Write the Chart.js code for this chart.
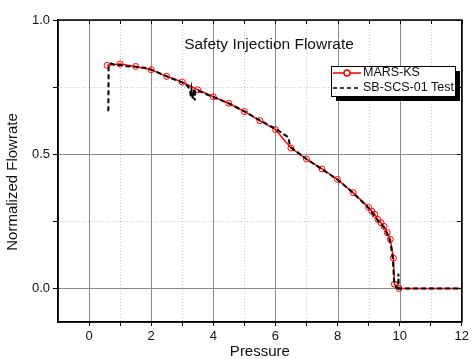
<!DOCTYPE html>
<html>
<head>
<meta charset="utf-8">
<script src="https://cdn.jsdelivr.net/npm/chart.js@4.4.0/dist/chart.umd.min.js"></script>
<style>
html, body { margin: 0; padding: 0; background: #fff; }
#wrap { width: 472px; height: 359px; }
</style>
</head>
<body>
<div id="wrap"><canvas id="flowChart"></canvas></div>
<script>
// MARS-KS calculation (red line, hollow circles)
const marsPressure = [0.58, 1.0, 1.5, 2.0, 2.5, 3.0, 3.5, 4.0, 4.5, 5.0, 5.5, 6.0, 6.5, 7.0, 7.5, 8.0, 8.5,
    9.0, 9.1, 9.2, 9.3, 9.4, 9.5, 9.6, 9.7, 9.8, 9.83, 9.98, 12.0];
const marsFlow = [0.831, 0.836, 0.827, 0.815, 0.790, 0.769, 0.740, 0.714, 0.690, 0.659, 0.625, 0.592, 0.523,
    0.482, 0.445, 0.406, 0.357, 0.302, 0.288, 0.276, 0.257, 0.245, 0.231, 0.208, 0.183, 0.113, 0.016, 0.0, 0.0];

// SB-SCS-01 test data (black dashed line)
const testPressure = [0.62, 0.63, 0.70, 0.80, 0.90, 1.0, 1.2, 1.5, 1.8, 2.0, 2.3, 2.6, 2.9, 3.1, 3.2, 3.25,
    3.28, 3.30, 3.34, 3.37, 3.40, 3.42, 3.5, 3.8, 4.0, 4.5, 5.0, 5.5, 6.0, 6.2, 6.42, 6.47, 7.0, 7.5, 8.0,
    8.5, 9.0, 9.3, 9.5, 9.65, 9.72, 9.78, 9.82, 9.88, 9.95, 9.96, 9.97, 10.5, 12.0];
const testFlow = [0.66, 0.83, 0.838, 0.834, 0.830, 0.833, 0.828, 0.826, 0.822, 0.815, 0.800, 0.785, 0.772,
    0.762, 0.750, 0.735, 0.715, 0.740, 0.705, 0.742, 0.700, 0.738, 0.738, 0.722, 0.713, 0.689, 0.660, 0.626,
    0.595, 0.580, 0.563, 0.528, 0.482, 0.444, 0.405, 0.356, 0.300, 0.252, 0.226, 0.190, 0.160, 0.110, 0.030,
    0.005, 0.0, 0.055, 0.0, 0.0, 0.0];

const xTicks = [0, 2, 4, 6, 8, 10, 12];
const xMinorTicks = [1, 3, 5, 7, 9, 11];
const yTicks = [0.0, 0.5, 1.0];
const yMinorTicks = [0.25, 0.75];

const FONT = 'Liberation Sans, Arial, sans-serif';

function pairs(xs, ys) {
    return xs.map((x, i) => ({ x: x, y: ys[i] }));
}

// gridlines: solid grey on labelled ticks, dotted light grey in between
const gridLines = {
    id: 'gridLines',
    beforeDatasetsDraw(chart) {
        const ctx = chart.ctx;
        const a = chart.chartArea;
        const xs = chart.scales.x;
        const ys = chart.scales.y;
        const line = (vals, scale, vertical) => {
            ctx.beginPath();
            vals.forEach(v => {
                const p = Math.round(scale.getPixelForValue(v)) + 0.5;
                if (vertical) {
                    ctx.moveTo(p, a.top);
                    ctx.lineTo(p, a.bottom);
                } else {
                    ctx.moveTo(a.left, p);
                    ctx.lineTo(a.right, p);
                }
            });
            ctx.stroke();
        };
        ctx.save();
        ctx.lineWidth = 1;
        ctx.strokeStyle = '#c4c4c4';
        ctx.setLineDash([1, 2]);
        line(xMinorTicks, xs, true);
        line(yMinorTicks, ys, false);
        ctx.setLineDash([]);
        ctx.strokeStyle = '#8a8a8a';
        line(xTicks, xs, true);
        line(yTicks, ys, false);
        ctx.restore();
    }
};

// frame, inner ticks on top/right, title, y title and legend
const decorations = {
    id: 'decorations',
    afterDraw(chart) {
        const ctx = chart.ctx;
        const a = chart.chartArea;
        const xs = chart.scales.x;
        const ys = chart.scales.y;
        ctx.save();

        ctx.strokeStyle = '#000';
        ctx.lineWidth = 1.5;
        ctx.strokeRect(a.left, a.top, a.right - a.left, a.bottom - a.top);

        ctx.lineWidth = 1;
        ctx.beginPath();
        xTicks.concat(xMinorTicks).forEach(v => {
            const px = Math.round(xs.getPixelForValue(v)) + 0.5;
            ctx.moveTo(px, a.top);
            ctx.lineTo(px, a.top + 4);
        });
        yTicks.concat(yMinorTicks).forEach(v => {
            const py = Math.round(ys.getPixelForValue(v)) + 0.5;
            ctx.moveTo(a.right, py);
            ctx.lineTo(a.right - 5, py);
        });
        ctx.stroke();

        ctx.fillStyle = '#111';
        ctx.textBaseline = 'middle';
        ctx.textAlign = 'center';
        ctx.font = '15.5px ' + FONT;
        ctx.fillText('Safety Injection Flowrate', 269, 45);

        ctx.font = '15px ' + FONT;
        ctx.save();
        ctx.translate(13, 182);
        ctx.rotate(-Math.PI / 2);
        ctx.fillText('Normalized Flowrate', 0, 0);
        ctx.restore();

        // legend box with drop shadow
        const bx = 331, by = 66, bw = 124, bh = 30;
        ctx.fillStyle = '#000';
        ctx.fillRect(bx + 5, by + 5, bw, bh);
        ctx.fillStyle = '#fff';
        ctx.fillRect(bx, by, bw, bh);
        ctx.strokeStyle = '#000';
        ctx.lineWidth = 1;
        ctx.strokeRect(bx + 0.5, by + 0.5, bw, bh);

        ctx.strokeStyle = '#ff0000';
        ctx.lineWidth = 1.5;
        ctx.beginPath();
        ctx.moveTo(333, 73);
        ctx.lineTo(361, 73);
        ctx.stroke();
        ctx.fillStyle = '#fff';
        ctx.beginPath();
        ctx.arc(347, 73, 3, 0, Math.PI * 2);
        ctx.fill();
        ctx.stroke();

        ctx.strokeStyle = '#000';
        ctx.setLineDash([4, 3]);
        ctx.beginPath();
        ctx.moveTo(333, 88);
        ctx.lineTo(361, 88);
        ctx.stroke();
        ctx.setLineDash([]);

        ctx.fillStyle = '#111';
        ctx.textAlign = 'left';
        ctx.font = '12.5px ' + FONT;
        ctx.fillText('MARS-KS', 363, 73);
        ctx.fillText('SB-SCS-01 Test', 363, 88);
        ctx.restore();
    }
};

function tickMarkColor(ctx) {
    return ctx.index === 0 ? 'rgba(0,0,0,0)' : '#000';
}

new Chart(document.getElementById('flowChart'), {
    type: 'scatter',
    data: {
        datasets: [{
            label: 'SB-SCS-01 Test',
            data: pairs(testPressure, testFlow),
            showLine: true,
            borderColor: '#000',
            borderWidth: 2,
            borderDash: [5, 3],
            pointRadius: 0,
            tension: 0,
            order: 0
        }, {
            label: 'MARS-KS',
            data: pairs(marsPressure, marsFlow),
            showLine: true,
            borderColor: '#ff0000',
            borderWidth: 1.5,
            pointRadius: marsPressure.map(p => (p < 12 ? 3 : 0)),
            pointBorderColor: '#ff0000',
            pointBackgroundColor: 'rgba(0,0,0,0)',
            pointBorderWidth: 1,
            tension: 0,
            order: 1
        }]
    },
    options: {
        responsive: true,
        maintainAspectRatio: false,
        animation: false,
        layout: {
            padding: { left: 0, right: 4, top: 20, bottom: 0 }
        },
        plugins: {
            legend: { display: false },
            tooltip: { enabled: false },
            title: { display: false }
        },
        scales: {
            x: {
                type: 'linear',
                min: -1,
                max: 12,
                afterFit: scale => { scale.height = 37; },
                ticks: {
                    stepSize: 1,
                    autoSkip: false,
                    maxRotation: 0,
                    padding: 3,
                    color: '#111',
                    font: { family: FONT, size: 13 },
                    callback: value => (xTicks.includes(value) ? String(value) : '')
                },
                grid: {
                    drawOnChartArea: false,
                    tickColor: tickMarkColor,
                    tickLength: 4
                },
                border: { color: '#000', width: 1.5 },
                title: {
                    display: true,
                    text: 'Pressure',
                    color: '#111',
                    padding: 0,
                    font: { family: FONT, size: 15, lineHeight: 1 }
                }
            },
            y: {
                type: 'linear',
                min: -0.125,
                max: 1.0,
                afterFit: scale => { scale.width = 58; },
                ticks: {
                    stepSize: 0.25,
                    autoSkip: false,
                    padding: 3,
                    color: '#111',
                    font: { family: FONT, size: 13 },
                    callback: value => (yTicks.includes(value) ? value.toFixed(1) : '')
                },
                grid: {
                    drawOnChartArea: false,
                    tickColor: tickMarkColor,
                    tickLength: 5
                },
                border: { color: '#000', width: 1.5 }
            }
        }
    },
    plugins: [gridLines, decorations]
});
</script>
</body>
</html>
